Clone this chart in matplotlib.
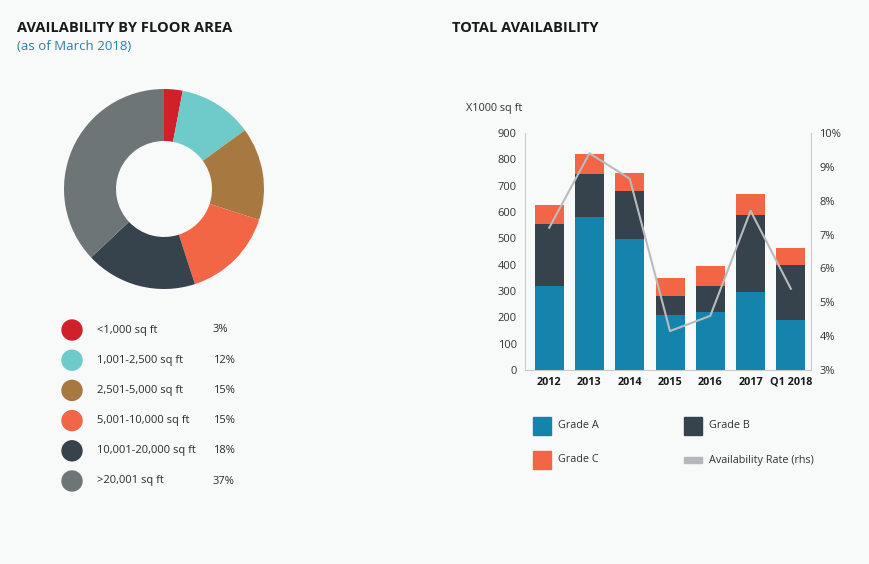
import matplotlib
matplotlib.use("Agg")
import matplotlib.pyplot as plt
from matplotlib.patches import Rectangle, Ellipse

plt.rcParams['font.family'] = ['Open Sans', 'DejaVu Sans']

# floor area split
area_labels = ['<1,000 sq ft', '1,001-2,500 sq ft', '2,501-5,000 sq ft',
               '5,001-10,000 sq ft', '10,001-20,000 sq ft', '>20,001 sq ft']
area_share = [3, 12, 15, 15, 18, 37]
area_colors = ['#d0202a', '#6ecbc9', '#a87841', '#f26545', '#36424c', '#6e7576']

# total availability (x1000 sq ft)
years = ['2012', '2013', '2014', '2015', '2016', '2017', 'Q1 2018']
grade_a = [318, 582, 497, 207, 219, 296, 190]
grade_b = [235, 164, 183, 74, 100, 293, 210]
grade_c = [75, 75, 70, 70, 75, 80, 62]
avail_rate = [7.2, 9.4, 8.65, 4.15, 4.6, 7.7, 5.4]

bg = '#f8f9f9'
text_col = '#2b2b2b'

fig = plt.figure(figsize=(8.69, 5.64), dpi=100, facecolor=bg)
W, H = 869, 564


def fx(px):
    return px / W


def fy(py):
    return 1 - py / H


# titles
fig.text(fx(17), fy(28), 'AVAILABILITY BY FLOOR AREA', fontsize=10.5,
         fontweight='bold', color='#1a1a1a', va='center')
fig.text(fx(17), fy(47), '(as of March 2018)', fontsize=9.5,
         color='#2a7fa8', va='center')
fig.text(fx(452), fy(28), 'TOTAL AVAILABILITY', fontsize=10.5,
         fontweight='bold', color='#1a1a1a', va='center')

# donut
ax_pie = fig.add_axes([fx(64), fy(289), 200 / W, 200 / H])
ax_pie.pie(area_share, colors=area_colors, startangle=90, counterclock=False,
           radius=1, wedgeprops=dict(width=0.52, linewidth=0))
ax_pie.set_xlim(-1, 1)
ax_pie.set_ylim(-1, 1)
ax_pie.set_aspect('equal')
ax_pie.axis('off')

# donut legend
for i, (lab, val, col) in enumerate(zip(area_labels, area_share, area_colors)):
    y = 330 + i * 30.2
    fig.add_artist(Ellipse((fx(72), fy(y)), 20 / W, 20 / H, color=col,
                           transform=fig.transFigure))
    fig.text(fx(97), fy(y), lab, fontsize=8, color=text_col, va='center')
    fig.text(fx(213), fy(y), f'{val}%', fontsize=8, color=text_col, va='center')

# stacked bars
ax = fig.add_axes([fx(525), fy(370), 286 / W, 237 / H])
ax.set_facecolor(bg)
x = range(len(years))
bw = 0.72
bottom_b = grade_a
bottom_c = [a + b for a, b in zip(grade_a, grade_b)]
ax.bar(x, grade_a, width=bw, color='#1584ad', zorder=2)
ax.bar(x, grade_b, width=bw, bottom=bottom_b, color='#36424c', zorder=2)
ax.bar(x, grade_c, width=bw, bottom=bottom_c, color='#f26545', zorder=2)
ax.set_xlim(-0.6, 6.5)
ax.set_ylim(0, 900)
ax.set_yticks(range(0, 901, 100))
ax.set_xticks(list(x))
ax.set_xticklabels(years, fontweight='bold', fontsize=7.8, color='#1a1a1a')
ax.tick_params(axis='y', length=0, labelsize=8, labelcolor='#333333', pad=6)
ax.tick_params(axis='x', length=0, pad=5)
for s in ['left', 'right', 'bottom']:
    ax.spines[s].set_color('#c8cacb')
    ax.spines[s].set_linewidth(0.8)
ax.spines['top'].set_visible(False)

ax2 = ax.twinx()
ax2.plot(list(x), avail_rate, color='#b9bcbe', linewidth=1.5, zorder=3)
ax2.set_ylim(3, 10)
ax2.set_yticks(range(3, 11))
ax2.set_yticklabels([f'{v}%' for v in range(3, 11)])
ax2.tick_params(axis='y', length=0, labelsize=8, labelcolor='#333333', pad=6)
for s in ['left', 'right', 'bottom', 'top']:
    ax2.spines[s].set_visible(False)

fig.text(fx(466), fy(109), 'X1000 sq ft', fontsize=7.8, color='#333333', va='center')

# bar legend
leg = [('Grade A', '#1584ad', 533, 426, 'box'),
       ('Grade B', '#36424c', 684, 426, 'box'),
       ('Grade C', '#f26545', 533, 460, 'box'),
       ('Availability Rate (rhs)', '#b5b8ba', 684, 460, 'line')]
for lab, col, px, py, kind in leg:
    if kind == 'box':
        fig.add_artist(Rectangle((fx(px), fy(py + 9)), 18 / W, 18 / H,
                                 color=col, transform=fig.transFigure))
    else:
        fig.add_artist(Rectangle((fx(px), fy(py + 3)), 18 / W, 6 / H,
                                 color=col, transform=fig.transFigure))
    fig.text(fx(px + 25), fy(py), lab, fontsize=7.8, color='#333333', va='center')

fig.savefig('out.png', dpi=100, facecolor=bg)
